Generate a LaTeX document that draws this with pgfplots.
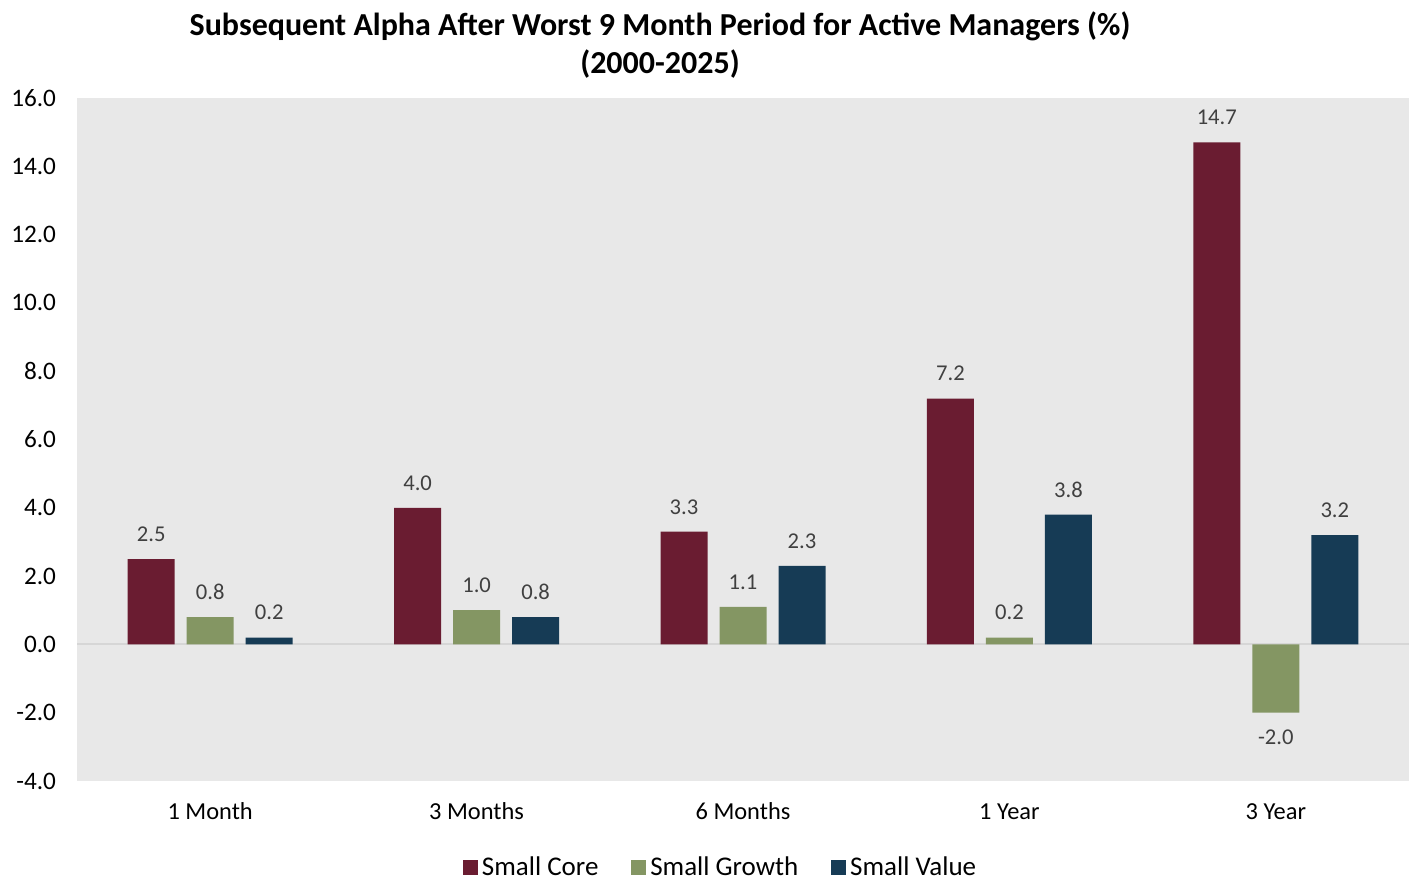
\documentclass[border=0pt]{standalone}
\usepackage{pgfplots}
\pgfplotsset{compat=1.18}
\usepackage{fontspec}
\setmainfont{Carlito}
\definecolor{cCore}{HTML}{6A1C31}
\definecolor{cGrowth}{HTML}{849663}
\definecolor{cValue}{HTML}{163B55}
\definecolor{bgGray}{HTML}{E8E8E8}
\definecolor{zeroGray}{HTML}{D6D6D6}
\definecolor{lblGray}{HTML}{404040}
\pgfplotstableread{
x core growth value
0 2.5 0.8 0.2
1 4.0 1.0 0.8
2 3.3 1.1 2.3
3 7.2 0.2 3.8
4 14.7 -2.0 3.2
}\datatable
\begin{document}
\begin{tikzpicture}
\begin{axis}[
  scale only axis,
  width=666pt, height=341.5pt,
  ybar=6pt, bar width=23.5pt,
  xmin=-0.5, xmax=4.5, ymin=-4, ymax=16,
  ytick distance=2,
  xtick=data,
  xticklabels={1 Month,3 Months,6 Months,1 Year,3 Year},
  axis line style={draw=none},
  axis background/.style={fill=bgGray},
  major tick length=0pt,
  /pgf/number format/assume math mode=true,
  /pgf/number format/fixed,
  /pgf/number format/fixed zerofill,
  /pgf/number format/precision=1,
  yticklabel style={font=\fontsize{12.6}{14}\selectfont, xshift=-7pt},
  xticklabel style={font=\fontsize{12.2}{14}\selectfont, anchor=base, yshift=-19pt},
  nodes near coords,
  nodes near coords align={vertical},
  nodes near coords style={font=\fontsize{11.3}{13}\selectfont, text=lblGray, inner ysep=8.5pt},
  title={Subsequent Alpha After Worst 9 Month Period for Active Managers (\%)\\(2000-2025)},
  title style={at={(0.4377,1)}, anchor=center, yshift=20.5pt, align=center, font=\bfseries\fontsize{16}{19}\selectfont},
  legend columns=3,
  legend style={draw=none, fill=none, at={(0.484,0)}, anchor=center, yshift=-43.5pt,
    font=\fontsize{13.5}{15}\selectfont,
    /tikz/every even column/.append style={column sep=14.5pt}},
  legend image code/.code={\fill[#1] (0pt,-3.6pt) rectangle (7.4pt,3.8pt);},
  clip=false,
]
\draw[zeroGray, line width=1pt] (axis cs:-0.5,0) -- (axis cs:4.5,0);
\addplot[fill=cCore, draw=none] table[x=x,y=core]{\datatable};
\addplot[fill=cGrowth, draw=none] table[x=x,y=growth]{\datatable};
\addplot[fill=cValue, draw=none] table[x=x,y=value]{\datatable};
\legend{Small Core,Small Growth,Small Value}
\end{axis}
\pgfresetboundingbox
\path ([shift={(-38.5pt,-52.5pt)}]current axis.south west) rectangle ([shift={(0pt,49pt)}]current axis.north east);
\end{tikzpicture}
\end{document}
